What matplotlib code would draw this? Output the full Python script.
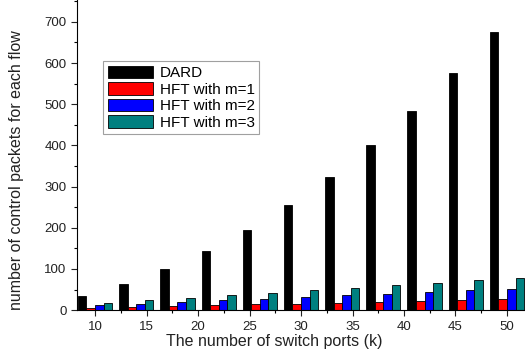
import numpy as np
import matplotlib
matplotlib.use('Agg')
import matplotlib.pyplot as plt
from matplotlib.ticker import MultipleLocator

plt.rcParams['font.family'] = ['Liberation Sans', 'DejaVu Sans']

k = [10, 14, 18, 22, 26, 30, 34, 38, 42, 46, 50]
dard = [35, 63, 100, 143, 195, 255, 323, 400, 483, 575, 675]
hft_m1 = [6, 8, 10, 12, 14, 16, 18, 20, 22, 24, 26]
hft_m2 = [12, 16, 20, 24, 28, 32, 36, 40, 44, 48, 52]
hft_m3 = [18, 24, 30, 36, 42, 48, 54, 60, 66, 72, 78]

series = [("DARD", dard, "black"),
          ("HFT with m=1", hft_m1, "#ff0000"),
          ("HFT with m=2", hft_m2, "#0000ff"),
          ("HFT with m=3", hft_m3, "#008080")]

fig = plt.figure(figsize=(5.25, 3.52), dpi=100)
ax = fig.add_axes([0.1467, 0.119, 0.8533, 0.881])

x = np.array(k, dtype=float)
w = 0.83
for i, (lab, vals, col) in enumerate(series):
    ax.bar(x + (i - 1.5) * w, vals, width=w, color=col,
           edgecolor='black', linewidth=0.6, label=lab)

ax.set_xlim(8.25, 51.75)
ax.set_ylim(0, 753)
ax.xaxis.set_major_locator(MultipleLocator(5))
ax.xaxis.set_minor_locator(MultipleLocator(2.5))
ax.yaxis.set_major_locator(MultipleLocator(100))
ax.yaxis.set_minor_locator(MultipleLocator(50))
ax.tick_params(which='major', direction='out', length=4, width=0.8,
               labelsize=9.5, colors='#222222')
ax.tick_params(which='minor', direction='out', length=2.5, width=0.8)
ax.spines['top'].set_visible(False)
ax.spines['right'].set_visible(False)

ax.set_xlabel("The number of switch ports (k)", fontsize=11.5,
              color='#222222')
ax.set_ylabel("number of control packets for each flow", fontsize=11.5,
              color='#222222')
ax.xaxis.set_label_coords(0.44, -0.078)
ax.yaxis.set_label_coords(-0.118, 0.452)

leg = ax.legend(loc='upper left', bbox_to_anchor=(0.058, 0.803),
                fontsize=11, frameon=True, fancybox=False,
                edgecolor='#888888', handlelength=3.0, handleheight=0.9,
                handletextpad=0.4, borderpad=0.3, labelspacing=0.12,
                borderaxespad=0)
leg.get_frame().set_linewidth(0.8)

fig.savefig("out.png", dpi=100)
